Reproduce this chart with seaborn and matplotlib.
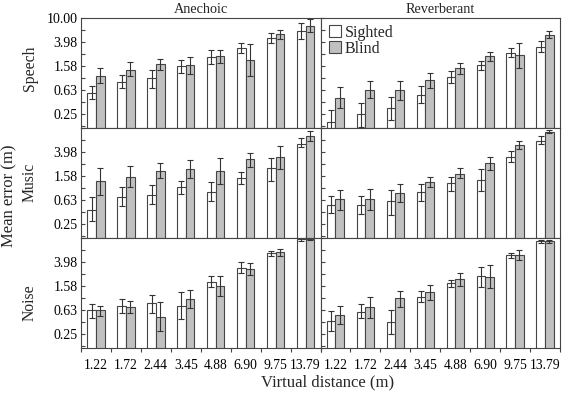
import numpy as np
import pandas as pd
import seaborn as sns
import matplotlib.pyplot as plt
from matplotlib.ticker import FixedLocator, NullFormatter

distances = ['1.22', '1.72', '2.44', '3.45', '4.88', '6.90', '9.75', '13.79']
groups = ['Sighted', 'Blind']
stimuli = ['Speech', 'Music', 'Noise']
rooms = ['Anechoic', 'Reverberant']

# speech, anechoic
speech_ane_sighted = [0.56, 0.87, 1.00, 1.58, 2.29, 3.16, 4.75, 6.20]
speech_ane_sighted_lo = [0.45, 0.69, 0.70, 1.21, 1.73, 2.61, 3.92, 4.60]
speech_ane_sighted_hi = [0.74, 1.12, 1.37, 2.02, 2.96, 3.83, 5.70, 8.45]
speech_ane_blind = [1.10, 1.39, 1.71, 1.65, 2.38, 2.02, 5.41, 7.54]
speech_ane_blind_lo = [0.82, 1.11, 1.37, 1.18, 1.82, 1.09, 4.52, 5.84]
speech_ane_blind_hi = [1.49, 1.85, 2.07, 2.27, 2.96, 3.69, 6.38, 9.60]

# speech, reverberant
speech_rev_sighted = [0.187, 0.25, 0.32, 0.53, 1.05, 1.65, 2.61, 3.32]
speech_rev_sighted_lo = [0.12, 0.156, 0.20, 0.38, 0.82, 1.37, 2.24, 2.71]
speech_rev_sighted_hi = [0.293, 0.38, 0.49, 0.74, 1.34, 1.97, 3.16, 4.13]
speech_rev_blind = [0.475, 0.645, 0.63, 0.93, 1.47, 2.35, 2.42, 5.27]
speech_rev_blind_lo = [0.32, 0.46, 0.43, 0.68, 1.18, 1.97, 1.50, 4.64]
speech_rev_blind_hi = [0.71, 0.89, 0.91, 1.24, 1.82, 2.77, 3.83, 6.07]

# music, anechoic
music_ane_sighted = [0.44, 0.72, 0.78, 1.03, 0.87, 1.45, 2.15, 5.55]
music_ane_sighted_lo = [0.28, 0.50, 0.54, 0.80, 0.60, 1.15, 1.32, 4.77]
music_ane_sighted_hi = [0.70, 1.04, 1.11, 1.34, 1.25, 1.85, 3.24, 6.74]
music_ane_blind = [1.32, 1.56, 1.94, 2.05, 1.94, 3.04, 3.32, 7.36]
music_ane_blind_lo = [0.76, 1.03, 1.45, 1.45, 1.17, 2.27, 2.05, 6.15]
music_ane_blind_hi = [2.13, 2.35, 2.67, 2.90, 3.24, 3.93, 5.07, 8.90]

# music, reverberant
music_rev_sighted = [0.527, 0.527, 0.60, 0.85, 1.24, 1.36, 3.32, 6.23]
music_rev_sighted_lo = [0.38, 0.37, 0.36, 0.60, 0.89, 0.88, 2.68, 5.36]
music_rev_sighted_hi = [0.74, 0.74, 0.93, 1.15, 1.51, 2.05, 4.19, 7.28]
music_rev_blind = [0.65, 0.65, 0.825, 1.27, 1.75, 2.58, 5.20, 8.80]
music_rev_blind_lo = [0.44, 0.44, 0.58, 1.06, 1.47, 2.00, 4.52, 8.26]
music_rev_blind_hi = [0.93, 0.95, 1.15, 1.51, 2.13, 3.32, 6.07, 9.50]

# noise, anechoic
noise_ane_sighted = [0.622, 0.735, 0.825, 0.735, 1.85, 3.20, 5.62, 9.50]
noise_ane_sighted_lo = [0.47, 0.56, 0.57, 0.45, 1.50, 2.61, 5.07, 9.10]
noise_ane_sighted_hi = [0.81, 0.98, 1.11, 1.26, 2.29, 3.92, 6.15, 9.90]
noise_ane_blind = [0.63, 0.71, 0.49, 0.975, 1.58, 3.04, 5.84, 9.60]
noise_ane_blind_lo = [0.50, 0.57, 0.285, 0.68, 1.10, 2.45, 5.07, 9.20]
noise_ane_blind_hi = [0.74, 0.88, 0.86, 1.36, 2.29, 3.77, 6.50, 10.0]

# noise, reverberant
noise_rev_sighted = [0.414, 0.585, 0.40, 1.05, 1.75, 2.32, 5.20, 8.80]
noise_rev_sighted_lo = [0.28, 0.46, 0.25, 0.86, 1.51, 1.54, 4.60, 8.30]
noise_rev_sighted_hi = [0.60, 0.80, 0.63, 1.33, 2.00, 3.33, 5.70, 9.30]
noise_rev_blind = [0.52, 0.71, 1.00, 1.28, 2.07, 2.26, 5.20, 8.90]
noise_rev_blind_lo = [0.37, 0.47, 0.72, 0.94, 1.60, 1.47, 4.35, 8.30]
noise_rev_blind_hi = [0.73, 1.04, 1.33, 1.67, 2.65, 3.55, 6.30, 9.40]

panels = {
    ('Speech', 'Anechoic'): (speech_ane_sighted, speech_ane_sighted_lo, speech_ane_sighted_hi,
                             speech_ane_blind, speech_ane_blind_lo, speech_ane_blind_hi),
    ('Speech', 'Reverberant'): (speech_rev_sighted, speech_rev_sighted_lo, speech_rev_sighted_hi,
                                speech_rev_blind, speech_rev_blind_lo, speech_rev_blind_hi),
    ('Music', 'Anechoic'): (music_ane_sighted, music_ane_sighted_lo, music_ane_sighted_hi,
                            music_ane_blind, music_ane_blind_lo, music_ane_blind_hi),
    ('Music', 'Reverberant'): (music_rev_sighted, music_rev_sighted_lo, music_rev_sighted_hi,
                               music_rev_blind, music_rev_blind_lo, music_rev_blind_hi),
    ('Noise', 'Anechoic'): (noise_ane_sighted, noise_ane_sighted_lo, noise_ane_sighted_hi,
                            noise_ane_blind, noise_ane_blind_lo, noise_ane_blind_hi),
    ('Noise', 'Reverberant'): (noise_rev_sighted, noise_rev_sighted_lo, noise_rev_sighted_hi,
                               noise_rev_blind, noise_rev_blind_lo, noise_rev_blind_hi),
}

ytick_exp = [-0.6, -0.2, 0.2, 0.6, 1.0]
yminor_exp = [-0.8, -0.4, 0.0, 0.4, 0.8]
ytick_labels = ['0.25', '0.63', '1.58', '3.98', '10.00']

EDGE = '#454545'

sns.set_theme(style='ticks')
plt.rcParams['font.family'] = ['Liberation Serif', 'DejaVu Serif']

fig, axes = plt.subplots(3, 2, figsize=(5.68, 3.94), dpi=100)
fig.subplots_adjust(left=0.1426, right=0.986, top=0.9536, bottom=0.1168,
                    wspace=0, hspace=0)

for r, stim in enumerate(stimuli):
    for c, room in enumerate(rooms):
        ax = axes[r, c]
        s, s_lo, s_hi, b, b_lo, b_hi = panels[(stim, room)]
        df = pd.DataFrame({
            'distance': distances * 2,
            'group': ['Sighted'] * len(distances) + ['Blind'] * len(distances),
            'error': s + b,
        })
        ax.set_yscale('log')
        sns.barplot(data=df, x='distance', y='error', hue='group',
                    order=distances, hue_order=groups,
                    palette={'Sighted': 'white', 'Blind': '#c0c0c0'},
                    width=0.58, gap=0, edgecolor=EDGE, linewidth=0.8,
                    errorbar=None, legend=(r == 0 and c == 1), ax=ax)

        for cont, means, los, his in zip(ax.containers, (s, b), (s_lo, b_lo), (s_hi, b_hi)):
            for bar, m, lo, hi in zip(cont, means, los, his):
                x = bar.get_x() + bar.get_width() / 2
                ax.errorbar(x, m, yerr=[[m - lo], [hi - m]], color='#333333',
                            lw=0.8, capsize=2, capthick=0.8, fmt='none')

        ax.set_ylim(10 ** -0.833, 10.0)
        ax.set_xlim(-0.5, len(distances) - 0.5)
        ax.set_xlabel('')
        ax.set_ylabel('')

        ax.set_yticks([10 ** e for e in ytick_exp])
        if c == 0:
            labels = list(ytick_labels)
            if r > 0:
                labels[-1] = ''
            ax.set_yticklabels(labels, fontsize=10)
        else:
            ax.set_yticklabels([''] * len(ytick_exp))
        ax.yaxis.set_minor_locator(FixedLocator([10 ** e for e in yminor_exp]))
        ax.yaxis.set_minor_formatter(NullFormatter())
        ax.tick_params(axis='y', which='both', direction='in', length=3,
                       width=0.8, color=EDGE, pad=2.5, labelcolor='black')

        ax.set_xticks(range(len(distances)))
        ax.set_xticks(np.arange(len(distances) + 1) - 0.5, minor=True)
        if r == 2:
            ax.set_xticklabels(distances, fontsize=9.8)
        else:
            ax.set_xticklabels([''] * len(distances))
        ax.tick_params(axis='x', which='major', length=0, pad=8, labelcolor='black')
        ax.tick_params(axis='x', which='minor', direction='out', length=3,
                       width=0.8, color=EDGE)
        if r < 2:
            ax.tick_params(axis='x', which='minor', length=0)

        for sp in ax.spines.values():
            sp.set_color(EDGE)
            sp.set_linewidth(0.8)

        if r == 0 and c == 1:
            sns.move_legend(ax, 'upper left', bbox_to_anchor=(0.035, 0.94), title=None,
                            frameon=False, fontsize=11.5, handlelength=0.75,
                            handleheight=0.75, handletextpad=0.25, labelspacing=0.0,
                            borderaxespad=0, borderpad=0)

fig.text(0.353, 0.977, 'Anechoic', ha='center', va='center', fontsize=10.3)
fig.text(0.775, 0.977, 'Reverberant', ha='center', va='center', fontsize=10.3)
row_centers = [1 - 68.5 / 394, 1 - 182 / 394, 1 - 303 / 394]
for stim, yc in zip(stimuli, row_centers):
    fig.text(0.052, yc, stim, rotation=90, ha='center', va='center', fontsize=11.3)
fig.text(0.017, 1 - 196 / 394, 'Mean error (m)', rotation=90, ha='center',
         va='center', fontsize=12)
fig.text(0.577, 1 - 382 / 394, 'Virtual distance (m)', ha='center', va='center',
         fontsize=12)

fig.savefig('out.png', dpi=100)
